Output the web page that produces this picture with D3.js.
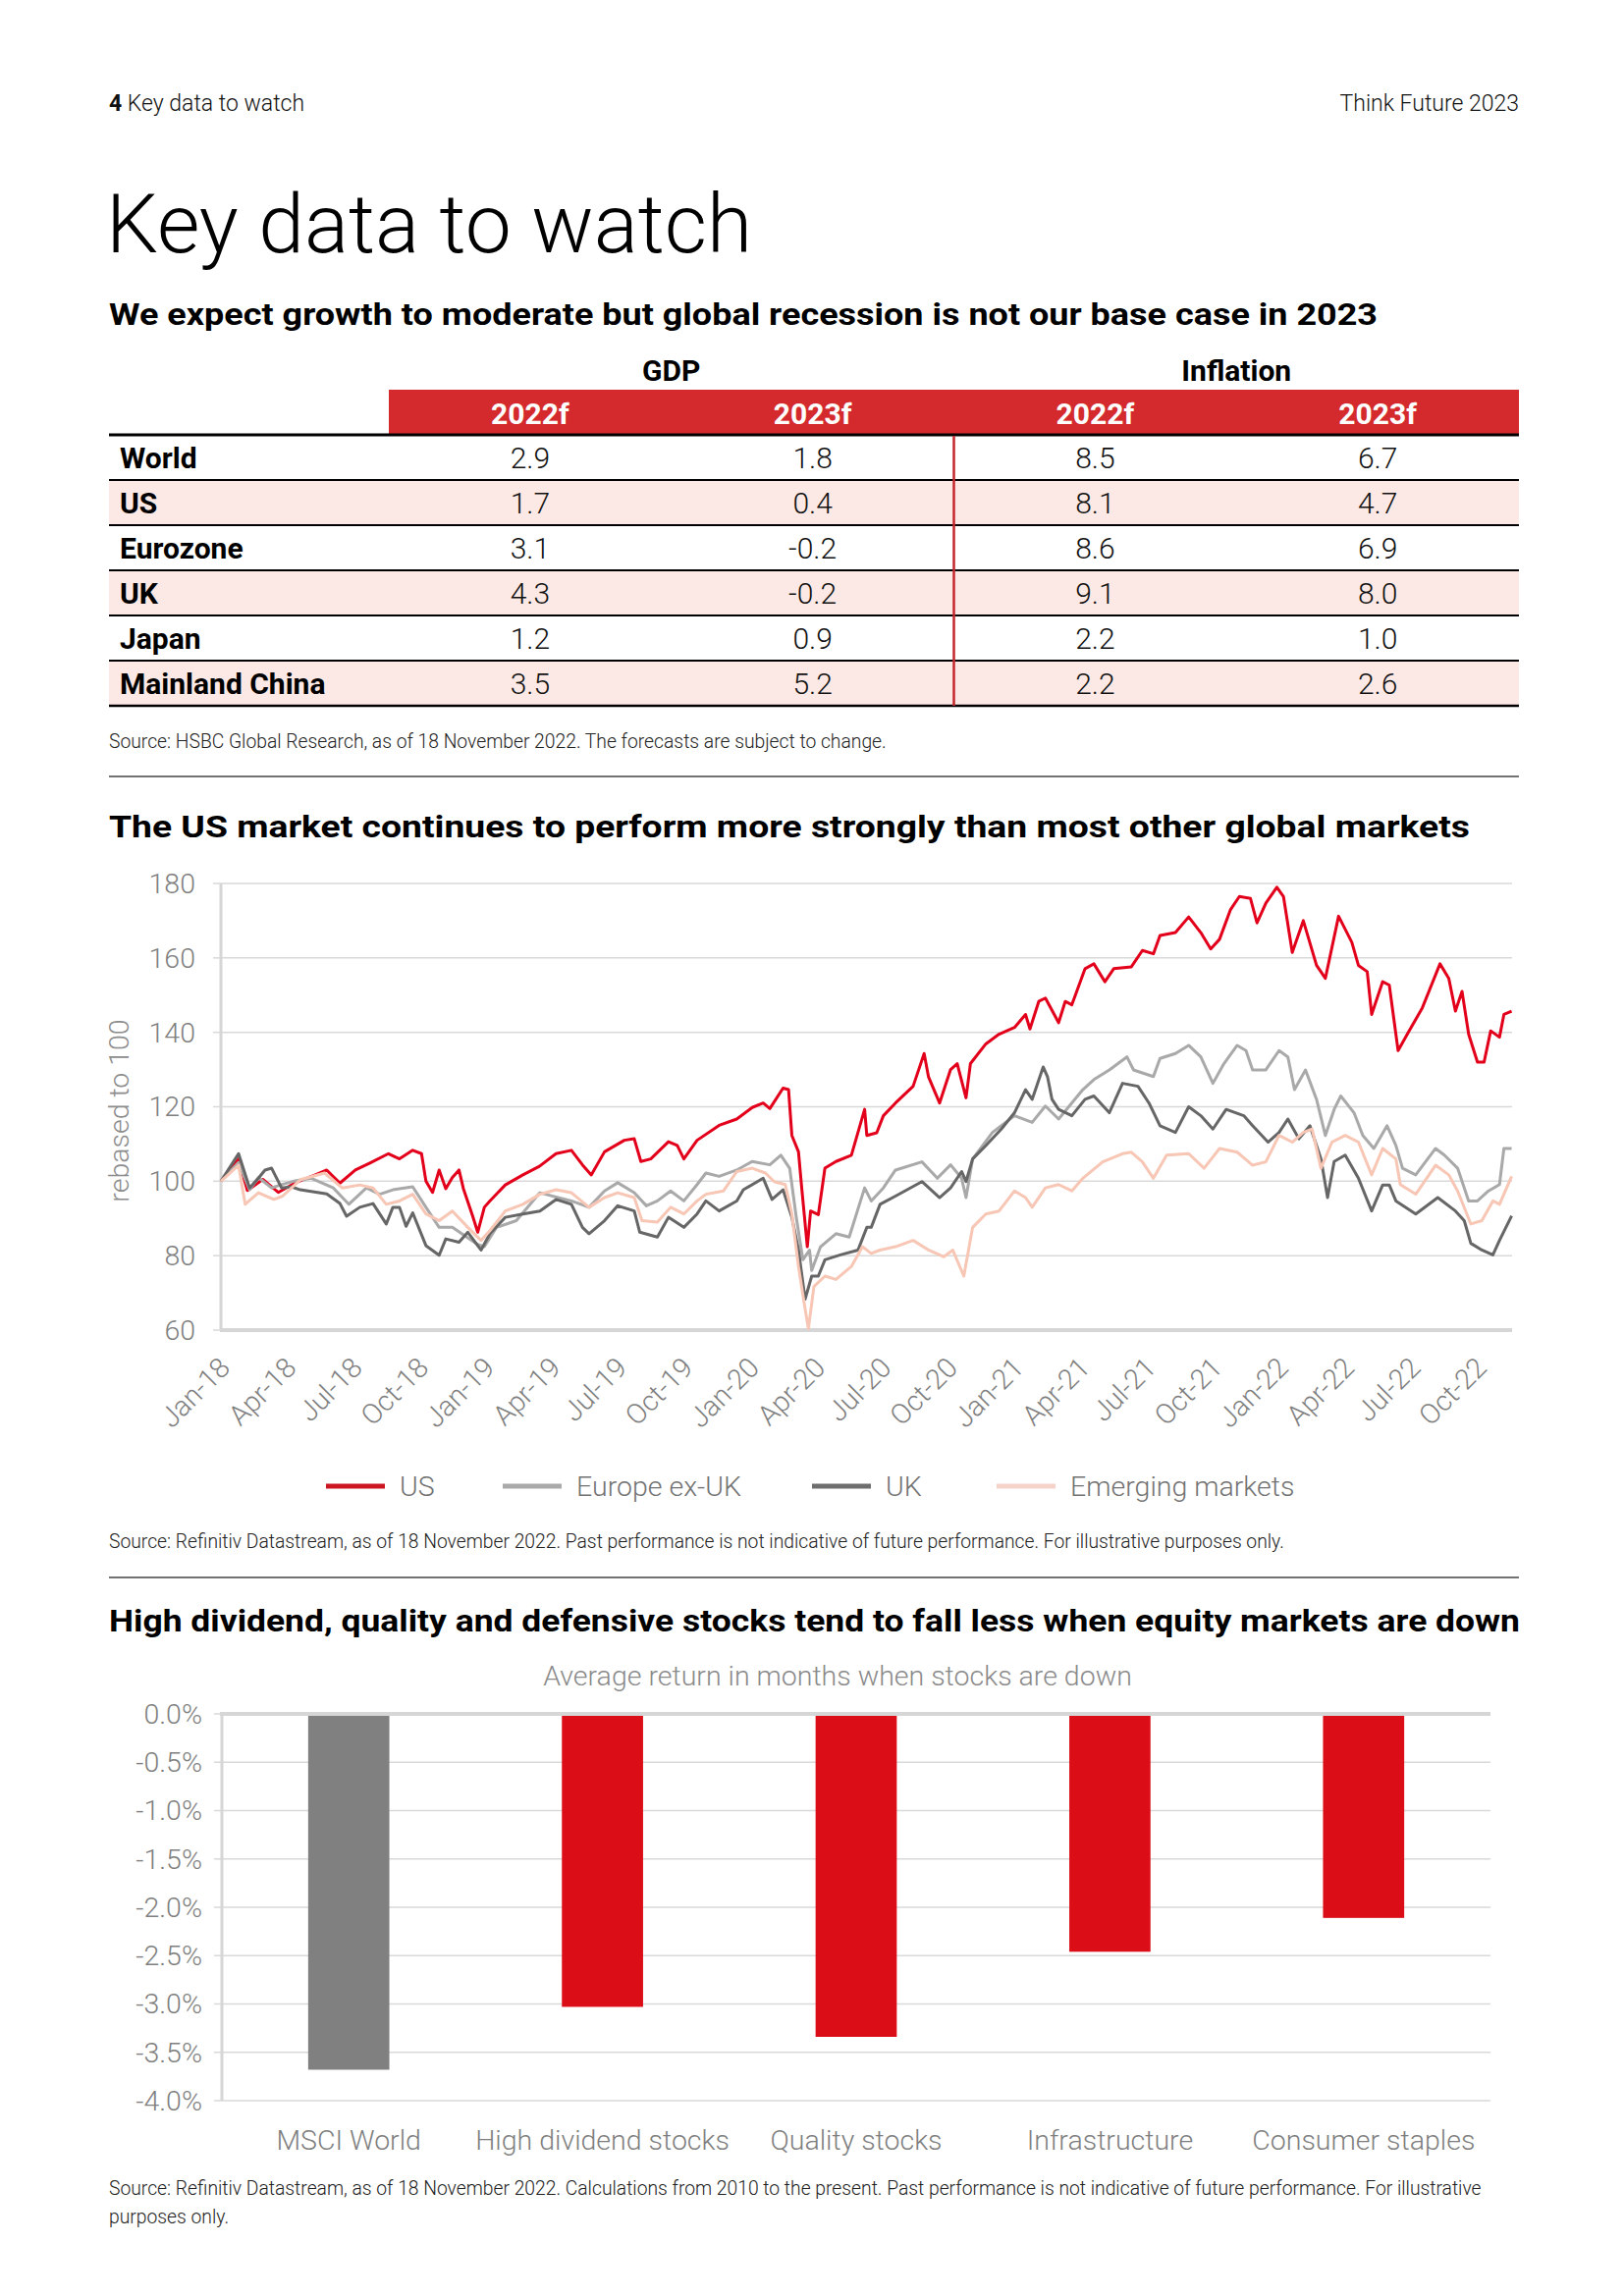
<!DOCTYPE html>
<html>
<head>
<meta charset="utf-8">
<script src="https://cdn.jsdelivr.net/npm/d3@7"></script>
<style>
  body { margin: 0; background: #fff; }
  svg { display: block; font-family: Roboto, "Noto Sans", sans-serif; }
</style>
</head>
<body>
<div id="page"></div>
<script>
// ---- table data ----
const regions = ["World", "US", "Eurozone", "UK", "Japan", "Mainland China"];
const gdp2022 = ["2.9", "1.7", "3.1", "4.3", "1.2", "3.5"];
const gdp2023 = ["1.8", "0.4", "-0.2", "-0.2", "0.9", "5.2"];
const infl2022 = ["8.5", "8.1", "8.6", "9.1", "2.2", "2.2"];
const infl2023 = ["6.7", "4.7", "6.9", "8.0", "1.0", "2.6"];
const tableCols = ["2022f", "2023f", "2022f", "2023f"];

// ---- line chart data: [months since Jan 2018, index rebased to 100] ----
const xTickLabels = ["Jan-18", "Apr-18", "Jul-18", "Oct-18", "Jan-19", "Apr-19", "Jul-19", "Oct-19",
  "Jan-20", "Apr-20", "Jul-20", "Oct-20", "Jan-21", "Apr-21", "Jul-21", "Oct-21",
  "Jan-22", "Apr-22", "Jul-22", "Oct-22"];
const yTicks = [60, 80, 100, 120, 140, 160, 180];

const usSeries = [[0,100],[0.8,106],[1.2,97.5],[1.9,100.5],[2.6,97],[3.35,99.5],[4.2,101.5],[4.8,103],[5.4,99.5],
  [6.1,103],[6.8,105],[7.6,107.4],[8.1,106],[8.7,108.3],[9.1,107.4],[9.3,100],[9.6,97],[9.9,103],[10.2,98],
  [10.5,101],[10.8,103],[11.0,98],[11.4,91],[11.65,86.3],[11.95,93],[12.2,94.7],[12.9,99],[13.7,101.7],
  [14.45,104],[15.2,107.4],[15.9,108.3],[16.4,104.4],[16.8,101.7],[17.4,107.9],[18.3,111],[18.75,111.4],
  [19.05,105.3],[19.5,106],[20.3,110.6],[20.7,109.6],[21.0,106],[21.6,111],[22.6,115],[23.4,116.7],
  [24.1,119.8],[24.6,121],[24.9,119.5],[25.5,125],[25.75,124.6],[25.9,112.3],[26.2,107.9],[26.35,98],
  [26.6,82.4],[26.75,92],[27.1,91],[27.4,103.5],[27.9,105.3],[28.6,107],[29.2,119.3],[29.3,112.3],
  [29.75,113],[30.05,117.6],[30.6,121],[31.4,125.5],[31.9,134.3],[32.1,128],[32.6,121],[33.1,130],
  [33.4,131.6],[33.8,122.4],[34.0,131.6],[34.7,136.9],[35.3,139.5],[36.0,141.3],[36.5,144.8],[36.7,140.9],
  [37.1,148.3],[37.4,149.2],[38.0,142.6],[38.3,148.3],[38.6,147.4],[39.2,157.1],[39.6,158.4],[40.1,153.6],
  [40.5,157.1],[41.3,157.6],[41.8,162],[42.3,161.1],[42.6,166],[43.3,166.8],[43.9,171],[44.45,166.8],
  [44.9,162.4],[45.3,165],[45.8,173],[46.2,176.5],[46.7,176],[47.0,169.4],[47.4,174.7],[47.9,179],
  [48.2,176.5],[48.6,161.5],[49.1,170],[49.7,158],[50.1,154.5],[50.7,171.2],[51.3,164.2],[51.6,158],
  [52.0,156.3],[52.2,144.8],[52.7,153.6],[53.0,152.7],[53.4,135.1],[53.9,140.4],[54.5,146.6],[55.3,158.4],
  [55.7,154.5],[56.0,145.7],[56.3,151],[56.6,139.5],[57.0,132],[57.3,132],[57.6,140.4],[58.0,138.7],
  [58.2,144.8],[58.55,145.7]];

const europeSeries = [[0,100],[0.8,105],[1.3,97.7],[1.7,101],[2.3,98.2],[2.7,99],[3.3,100],[4.1,100.8],
  [5.1,98.2],[5.8,93.8],[6.6,98.2],[7.2,96.5],[7.8,97.7],[8.7,98.5],[9.3,93],[9.9,87.6],[10.5,87.6],
  [11.2,84.8],[11.65,83],[11.95,82.4],[12.5,87.6],[13.4,89.4],[14.47,96.9],[15.9,94.7],[16.7,93],
  [17.4,97.4],[18.0,99.6],[18.75,96.9],[19.3,93.4],[19.8,94.7],[20.4,97.4],[21.0,94.7],[21.6,99.1],
  [22.0,102.2],[22.6,101.3],[23.4,103],[24.1,105.3],[24.9,104.4],[25.4,107],[25.8,103.5],[26.1,90.3],
  [26.4,78.9],[26.7,81.5],[26.8,76],[27.2,82.4],[27.9,85.9],[28.5,85],[29.2,98.2],[29.5,94.7],[30.05,98.2],
  [30.6,103],[31.8,105.2],[32.5,100.8],[33.1,104.4],[33.6,100.8],[33.8,95.6],[34.1,106],[35.0,113.1],
  [36.0,117.6],[36.8,115.8],[37.4,120.2],[38.0,116.7],[39.1,124.6],[39.6,127.3],[40.3,129.9],[41.1,133.4],
  [41.4,129.9],[42.3,128.1],[42.6,133],[43.3,134.3],[43.9,136.5],[44.45,133.4],[45.0,126.3],[45.5,131.6],
  [46.1,136.5],[46.5,135.1],[46.8,129.9],[47.4,129.9],[48.0,135.1],[48.4,133.4],[48.7,124.6],[49.2,129.9],
  [49.7,122],[50.1,112.3],[50.5,119.3],[50.8,122.9],[51.4,118.4],[51.8,112.3],[52.3,108.8],[52.9,114.9],
  [53.3,109.6],[53.6,103.5],[54.2,101.7],[55.1,108.8],[55.5,107],[56.1,103.5],[56.6,94.7],[57.0,94.7],
  [57.5,97.4],[58.0,99.1],[58.2,108.8],[58.55,108.8]];

const ukSeries = [[0,100],[0.8,107.4],[1.3,98.2],[1.7,100.8],[2.0,103],[2.3,103.5],[2.75,98.2],[3.2,98.5],
  [3.6,97.7],[4.8,96.6],[5.4,94],[5.7,90.6],[6.3,93],[6.9,94],[7.5,88.5],[7.8,93],[8.1,93],[8.4,87.9],
  [8.7,91.5],[9.3,82.7],[9.9,80.1],[10.2,84.5],[10.8,83.6],[11.2,86.3],[11.8,81.5],[12.2,85.9],[12.9,90.3],
  [13.7,91.2],[14.47,92],[15.2,95.1],[15.9,93.8],[16.4,87.6],[16.7,85.9],[17.4,89.4],[18.0,93.4],
  [18.75,92],[19.0,86.3],[19.8,85],[20.3,90.3],[21.0,87.6],[21.6,91.2],[22.0,94.7],[22.6,92],[23.4,94.7],
  [23.7,97.7],[24.6,100.8],[25.0,95.1],[25.5,97.7],[25.9,90.3],[26.2,81.5],[26.5,68.3],[26.8,74.5],
  [27.1,74.5],[27.4,78.9],[28.1,80.2],[28.9,81.5],[29.3,87.6],[29.5,87.6],[29.9,93.8],[30.6,96],
  [31.8,99.9],[32.6,95.6],[33.1,98.2],[33.6,102.6],[33.8,99.9],[34.1,106],[34.7,109.6],[35.4,114],
  [36.0,118.4],[36.5,124.6],[36.8,122],[37.3,130.7],[37.5,128],[37.7,122],[38.0,119.3],[38.6,117.6],
  [39.2,122],[39.6,122.9],[40.3,118.4],[40.9,126.3],[41.6,125.5],[42.1,121],[42.6,114.9],[43.3,113.1],
  [43.9,120],[44.45,117.6],[45.0,114],[45.6,119.3],[46.4,117.6],[46.8,114.9],[47.5,110.5],[48.0,113.1],
  [48.4,116.7],[48.9,111.4],[49.4,114.9],[49.9,106],[50.2,95.6],[50.5,105.3],[51.0,107],[51.6,100.8],
  [52.2,92],[52.7,99],[53.0,99],[53.3,94.7],[54.2,91.2],[55.2,95.6],[56.0,92],[56.4,89.4],[56.7,83.3],
  [57.2,81.5],[57.7,80.2],[58.0,84.1],[58.55,90.7]];

const emSeries = [[0,100],[0.8,104.3],[1.1,93.8],[1.7,96.9],[2.4,95.1],[2.8,96],[3.6,100.4],[4.7,102.2],
  [5.5,98.2],[6.3,99],[6.9,98.2],[7.5,93.8],[8.1,94.7],[8.7,96.5],[9.3,91.2],[9.9,89.4],[10.5,92],
  [11.2,87.6],[11.8,84.1],[12.2,86.7],[12.9,92],[13.7,93.8],[14.47,96.5],[15.2,97.7],[15.9,96.9],[16.7,93],
  [17.4,95.6],[18.0,96.9],[18.75,95.6],[19.1,89.4],[19.8,89],[20.4,93],[21.0,91.2],[21.6,94.7],[22.0,96.5],
  [22.8,97.4],[23.4,102.6],[24.1,103.5],[24.7,102.2],[25.1,99.9],[25.6,99.1],[25.9,91.2],[26.2,77.1],
  [26.5,65.7],[26.65,60.4],[26.9,71.7],[27.4,74.5],[27.9,73.6],[28.6,77.1],[29.1,82.4],[29.5,80.6],
  [29.9,81.5],[30.6,82.4],[31.4,84.1],[32.1,81.5],[32.8,79.7],[33.2,81.5],[33.7,74.5],[34.1,87.6],
  [34.7,91.2],[35.3,92],[36.0,97.4],[36.5,95.6],[36.8,93],[37.4,98.2],[38.0,99.1],[38.6,97.4],[39.1,100.8],
  [40.0,105.2],[40.9,107.4],[41.3,107.8],[41.8,105.2],[42.3,100.8],[42.9,107],[43.9,107.4],[44.6,103.5],
  [45.3,108.8],[46.1,107.8],[46.8,104.3],[47.4,105.2],[48.0,112.3],[48.6,110.5],[49.1,113.1],[49.5,114],
  [49.9,103.5],[50.4,110.5],[51.0,112.3],[51.6,110.5],[52.2,101.7],[52.7,108.8],[53.3,106],[53.5,99.1],
  [54.2,96.5],[55.1,104.3],[55.7,101.7],[56.1,97.4],[56.7,88.5],[57.2,89.4],[57.7,94.7],[58.0,93.8],
  [58.55,101.3]];

const seriesNames = ["US", "Europe ex-UK", "UK", "Emerging markets"];
const seriesColors = ["#e3001b", "#a9a9a9", "#666666", "#f7c6b4"];
const legendColors = ["#cc1722", "#aaaaaa", "#6e6e6e", "#f6d3c9"];

// ---- bar chart data ----
const barCategories = ["MSCI World", "High dividend stocks", "Quality stocks", "Infrastructure", "Consumer staples"];
const barValues = [-3.68, -3.03, -3.34, -2.46, -2.11];
const barTicks = [0, -0.5, -1, -1.5, -2, -2.5, -3, -3.5, -4];

const W = 1654, H = 2339;
const left = 111, right = 1547;
const chartFont = 28.5;

const svg = d3.select("#page").append("svg")
  .attr("width", W).attr("height", H)
  .attr("viewBox", `0 0 ${W} ${H}`);

// ---- page header ----
const hdr = svg.append("text").attr("x", left).attr("y", 113)
  .attr("font-size", 23).attr("fill", "#111");
hdr.append("tspan").attr("font-weight", 700).text("4");
hdr.append("tspan").attr("font-weight", 300).text("  Key data to watch");
svg.append("text").attr("x", right).attr("y", 113).attr("text-anchor", "end")
  .attr("font-size", 23).attr("font-weight", 300).attr("fill", "#111").text("Think Future 2023");

svg.append("text").attr("x", left - 3).attr("y", 257)
  .attr("font-size", 84).attr("font-weight", 300).attr("fill", "#000").text("Key data to watch");

// bold section headings, stretched to the width they take in the reference
function heading(y, txt, width) {
  svg.append("text").attr("x", left).attr("y", y)
    .attr("font-size", 32).attr("font-weight", 700).attr("fill", "#000")
    .attr("textLength", width).attr("lengthAdjust", "spacingAndGlyphs").text(txt);
}
function source(y, txt) {
  svg.append("text").attr("x", left).attr("y", y)
    .attr("font-size", 19.3).attr("font-weight", 300).attr("fill", "#222").text(txt);
}
function separator(y) {
  svg.append("line").attr("x1", left).attr("x2", right).attr("y1", y).attr("y2", y)
    .attr("stroke", "#444").attr("stroke-width", 1.5);
}

heading(331, "We expect growth to moderate but global recession is not our base case in 2023", 1292);

// ---- table ----
const colX = d3.scaleBand().domain(d3.range(4)).range([396, right]);
const rowY = d3.scaleBand().domain(d3.range(regions.length)).range([443, 719]);
const tbl = svg.append("g");

tbl.append("text").attr("x", colX(0) + colX.bandwidth()).attr("y", 388).attr("text-anchor", "middle")
  .attr("font-size", 30).attr("font-weight", 700).text("GDP");
tbl.append("text").attr("x", colX(2) + colX.bandwidth()).attr("y", 388).attr("text-anchor", "middle")
  .attr("font-size", 30).attr("font-weight", 700).text("Inflation");

tbl.append("rect").attr("x", 396).attr("y", 397).attr("width", right - 396).attr("height", 46)
  .attr("fill", "#d42a2d");
tbl.selectAll("text.colhead").data(tableCols).join("text").attr("class", "colhead")
  .attr("x", (d, i) => colX(i) + colX.bandwidth() / 2).attr("y", 432)
  .attr("text-anchor", "middle").attr("font-size", 30).attr("font-weight", 700)
  .attr("fill", "#fff").text(d => d);

tbl.selectAll("rect.row").data(regions).join("rect").attr("class", "row")
  .attr("x", left).attr("y", (d, i) => rowY(i)).attr("width", right - left).attr("height", rowY.bandwidth())
  .attr("fill", (d, i) => i % 2 ? "#fce9e5" : "#fff");

const cols = [gdp2022, gdp2023, infl2022, infl2023];
regions.forEach((r, i) => {
  const y = rowY(i) + 34;
  tbl.append("text").attr("x", 122).attr("y", y).attr("font-size", 30).attr("font-weight", 700)
    .attr("fill", "#000").text(r);
  cols.forEach((c, j) => {
    tbl.append("text").attr("x", colX(j) + colX.bandwidth() / 2).attr("y", y)
      .attr("text-anchor", "middle").attr("font-size", 30).attr("font-weight", 300)
      .attr("fill", "#111").text(c[i]);
  });
  tbl.append("line").attr("x1", left).attr("x2", right)
    .attr("y1", rowY(i) + rowY.bandwidth()).attr("y2", rowY(i) + rowY.bandwidth())
    .attr("stroke", "#000").attr("stroke-width", i === regions.length - 1 ? 2.5 : 2);
});
tbl.append("line").attr("x1", left).attr("x2", right).attr("y1", 443).attr("y2", 443)
  .attr("stroke", "#000").attr("stroke-width", 3);
tbl.append("line").attr("x1", colX(2)).attr("x2", colX(2)).attr("y1", 444).attr("y2", 719)
  .attr("stroke", "#c3262b").attr("stroke-width", 2.5);

source(762, "Source: HSBC Global Research, as of 18 November 2022. The forecasts are subject to change.");
separator(791);

// ---- line chart ----
heading(853, "The US market continues to perform more strongly than most other global markets", 1386);

const x = d3.scaleLinear().domain([0, 58.57]).range([225, 1540]);
const y = d3.scaleLinear().domain([60, 180]).range([1355, 900]);
const lc = svg.append("g");

lc.selectAll("line.grid").data(yTicks.filter(d => d > 60)).join("line").attr("class", "grid")
  .attr("x1", x(0)).attr("x2", x.range()[1]).attr("y1", d => y(d)).attr("y2", d => y(d))
  .attr("stroke", "#d9d9d9").attr("stroke-width", 1.5);
lc.selectAll("line.tk").data(yTicks).join("line").attr("class", "tk")
  .attr("x1", x(0) - 8).attr("x2", x(0)).attr("y1", d => y(d)).attr("y2", d => y(d))
  .attr("stroke", "#d9d9d9").attr("stroke-width", 1.5);
lc.selectAll("text.ylab").data(yTicks).join("text").attr("class", "ylab")
  .attr("x", 199).attr("y", d => y(d)).attr("dy", "0.35em").attr("text-anchor", "end")
  .attr("font-size", chartFont).attr("font-weight", 300).attr("fill", "#7f7f7f").text(d => d);
lc.append("line").attr("x1", x(0)).attr("x2", x(0)).attr("y1", y(180)).attr("y2", y(60))
  .attr("stroke", "#d6d6d6").attr("stroke-width", 3);
lc.append("line").attr("x1", x(0) - 1).attr("x2", x.range()[1]).attr("y1", y(60)).attr("y2", y(60))
  .attr("stroke", "#d6d6d6").attr("stroke-width", 4);

lc.append("text").attr("transform", `translate(121, ${y(120) + 4}) rotate(-90)`)
  .attr("text-anchor", "middle").attr("dy", "0.35em").attr("font-size", chartFont).attr("font-weight", 300)
  .attr("fill", "#8c8c8c").text("rebased to 100");

lc.selectAll("text.xlab").data(xTickLabels).join("text").attr("class", "xlab")
  .attr("transform", (d, i) => `translate(${x(i * 3) + 11}, ${y(60) + 40}) rotate(-45)`)
  .attr("text-anchor", "end").attr("font-size", chartFont).attr("font-weight", 300)
  .attr("fill", "#7f7f7f").text(d => d);

const line = d3.line().x(d => x(d[0])).y(d => y(d[1]));
[usSeries, europeSeries, ukSeries, emSeries].forEach((s, i) => {
  lc.append("path").datum(s).attr("d", line).attr("fill", "none")
    .attr("stroke", seriesColors[i]).attr("stroke-width", 3).attr("stroke-linejoin", "round");
});

const legendX = [332, 512, 827, 1015];
const legend = lc.selectAll("g.leg").data(seriesNames).join("g").attr("class", "leg")
  .attr("transform", (d, i) => `translate(${legendX[i]}, 1514)`);
legend.append("line").attr("x1", 0).attr("x2", 60).attr("stroke", (d, i) => legendColors[i])
  .attr("stroke-width", 5);
legend.append("text").attr("x", 75).attr("dy", "0.35em").attr("font-size", chartFont).attr("font-weight", 300)
  .attr("fill", "#737373").text(d => d);

source(1577, "Source: Refinitiv Datastream, as of 18 November 2022. Past performance is not indicative of future performance. For illustrative purposes only.");
separator(1607);

// ---- bar chart ----
heading(1662, "High dividend, quality and defensive stocks tend to fall less when equity markets are down", 1437);

svg.append("text").attr("x", 853).attr("y", 1717).attr("text-anchor", "middle")
  .attr("font-size", chartFont).attr("font-weight", 300).attr("fill", "#8a8a8a")
  .text("Average return in months when stocks are down");

const bx = d3.scaleBand().domain(barCategories).range([226, 1518]).paddingInner(0.68).paddingOuter(0.34);
const by = d3.scaleLinear().domain([-4, 0]).range([2140, 1746]);
const bc = svg.append("g");

bc.selectAll("line.grid").data(barTicks.filter(d => d !== 0)).join("line").attr("class", "grid")
  .attr("x1", 226).attr("x2", 1518).attr("y1", d => by(d)).attr("y2", d => by(d))
  .attr("stroke", "#d9d9d9").attr("stroke-width", 1.5);
bc.selectAll("line.tk").data(barTicks).join("line").attr("class", "tk")
  .attr("x1", 218).attr("x2", 226).attr("y1", d => by(d)).attr("y2", d => by(d))
  .attr("stroke", "#d9d9d9").attr("stroke-width", 1.5);
bc.selectAll("text.ylab").data(barTicks).join("text").attr("class", "ylab")
  .attr("x", 206).attr("y", d => by(d)).attr("dy", "0.35em").attr("text-anchor", "end")
  .attr("font-size", chartFont).attr("font-weight", 300).attr("fill", "#7f7f7f")
  .text(d => d.toFixed(1) + "%");
bc.append("line").attr("x1", 226).attr("x2", 226).attr("y1", by(0)).attr("y2", by(-4))
  .attr("stroke", "#d6d6d6").attr("stroke-width", 3);

bc.selectAll("rect.bar").data(barValues).join("rect").attr("class", "bar")
  .attr("x", (d, i) => bx(barCategories[i])).attr("width", bx.bandwidth())
  .attr("y", by(0)).attr("height", d => by(d) - by(0))
  .attr("fill", (d, i) => i === 0 ? "#808080" : "#db0e18");

bc.append("line").attr("x1", 224).attr("x2", 1518).attr("y1", by(0)).attr("y2", by(0))
  .attr("stroke", "#d6d6d6").attr("stroke-width", 4);

bc.selectAll("text.cat").data(barCategories).join("text").attr("class", "cat")
  .attr("x", d => bx(d) + bx.bandwidth() / 2).attr("y", 2190).attr("text-anchor", "middle")
  .attr("font-size", chartFont).attr("font-weight", 300).attr("fill", "#7f7f7f").text(d => d);

source(2236, "Source: Refinitiv Datastream, as of 18 November 2022. Calculations from 2010 to the present. Past performance is not indicative of future performance. For illustrative");
source(2265, "purposes only.");
</script>
</body>
</html>
